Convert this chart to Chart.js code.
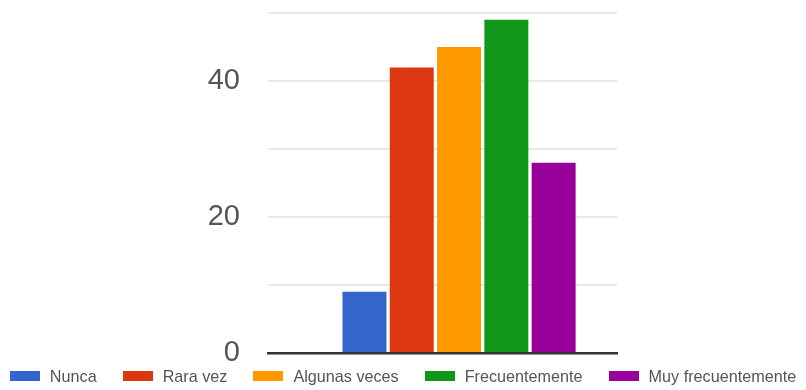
<!DOCTYPE html>
<html>
<head>
<meta charset="utf-8">
<script src="https://cdn.jsdelivr.net/npm/chart.js@4.4.0/dist/chart.umd.min.js"></script>
<style>
  body { margin: 0; background: #fff; font-family: "Liberation Sans", Arial, sans-serif; }
  .wrap { position: relative; width: 806px; height: 390px; }
  #legend {
    position: absolute; left: 0; right: 0; top: 368px;
    display: flex; justify-content: center; gap: 26px;
    font-size: 16.2px; line-height: 16px; color: #555;
  }
  #legend .item { display: flex; align-items: center; white-space: nowrap; }
  #legend .box { width: 30px; height: 10px; margin-right: 10px; }
</style>
</head>
<body>
<div class="wrap">
  <canvas id="chart" width="806" height="390"></canvas>
  <div id="legend"></div>
</div>
<script>
const categories = ['Nunca', 'Rara vez', 'Algunas veces', 'Frecuentemente', 'Muy frecuentemente'];
const values = [9, 42, 45, 49, 28];
const colors = ['#3366cc', '#dc3912', '#ff9900', '#109618', '#990099'];
const yTicks = [0, 20, 40];

// one dataset per answer so each keeps its own colour and legend entry
const datasets = categories.map((name, i) => ({
  label: name,
  data: [{ x: i, y: values[i] }],
  backgroundColor: colors[i],
  borderWidth: 0,
  grouped: false,
  categoryPercentage: 1,
  barPercentage: 0.93
}));

const chart = new Chart(document.getElementById('chart'), {
  type: 'bar',
  data: { datasets },
  options: {
    responsive: false,
    animation: false,
    font: { family: '"Liberation Sans", Arial, sans-serif' },
    layout: { padding: { top: 0, right: 189, bottom: 37, left: 0 } },
    plugins: {
      tooltip: { enabled: false },
      legend: { display: false }
    },
    scales: {
      x: {
        type: 'linear',
        min: -2.04,
        max: 5.34,
        offset: false,
        ticks: { display: false },
        grid: { display: false, drawTicks: false },
        border: { color: '#333', width: 2.5 }
      },
      y: {
        min: 0,
        max: 50,
        ticks: {
          stepSize: 10,
          padding: 0,
          color: '#555',
          font: { size: 29, lineHeight: 0.9 },
          callback: v => yTicks.includes(v) ? v : ''
        },
        grid: {
          tickLength: 28,
          tickColor: 'rgba(0,0,0,0)',
          lineWidth: 2,
          color: c => c.tick.value === 0 ? 'rgba(0,0,0,0)' : '#e8e8e8'
        },
        border: { display: false },
        afterFit: s => { s.width = 268; }
      }
    }
  }
});

// legend built from the chart's own datasets
const legend = document.getElementById('legend');
chart.data.datasets.forEach(ds => {
  const item = document.createElement('span');
  item.className = 'item';
  const box = document.createElement('span');
  box.className = 'box';
  box.style.background = ds.backgroundColor;
  item.appendChild(box);
  item.appendChild(document.createTextNode(ds.label));
  legend.appendChild(item);
});
</script>
</body>
</html>
